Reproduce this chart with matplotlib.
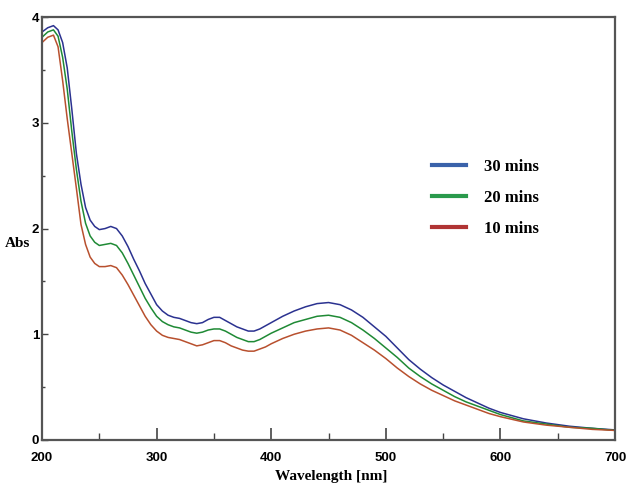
import matplotlib
matplotlib.use("Agg")
import matplotlib.pyplot as plt
from matplotlib.ticker import MultipleLocator

wavelength = [200, 205, 210, 214, 218, 222, 226, 230, 234, 238, 242, 246, 250, 255, 260, 265,
              270, 275, 280, 285, 290, 295, 300, 305, 310, 315, 320, 325, 330, 335, 340, 345,
              350, 355, 360, 365, 370, 375, 380, 385, 390, 395, 400, 410, 420, 430, 440, 450,
              460, 470, 480, 490, 500, 510, 520, 530, 540, 550, 560, 570, 580, 590, 600, 620,
              640, 660, 680, 700]

abs_30 = [3.86, 3.90, 3.92, 3.88, 3.76, 3.52, 3.13, 2.71, 2.42, 2.20, 2.08, 2.02, 1.99, 2.00, 2.02, 2.00,
          1.93, 1.83, 1.71, 1.60, 1.48, 1.38, 1.28, 1.22, 1.18, 1.16, 1.15, 1.13, 1.11, 1.10, 1.11, 1.14,
          1.16, 1.16, 1.13, 1.10, 1.07, 1.05, 1.03, 1.03, 1.05, 1.08, 1.11, 1.17, 1.22, 1.26, 1.29, 1.30,
          1.28, 1.23, 1.16, 1.07, 0.98, 0.87, 0.76, 0.67, 0.59, 0.52, 0.46, 0.40, 0.35, 0.30, 0.26, 0.20,
          0.16, 0.13, 0.11, 0.095]

abs_20 = [3.81, 3.86, 3.88, 3.82, 3.62, 3.32, 2.92, 2.56, 2.26, 2.05, 1.93, 1.87, 1.84, 1.85, 1.86, 1.84,
          1.77, 1.67, 1.56, 1.45, 1.34, 1.25, 1.17, 1.12, 1.09, 1.07, 1.06, 1.04, 1.02, 1.01, 1.02, 1.04,
          1.05, 1.05, 1.03, 1.00, 0.97, 0.95, 0.93, 0.93, 0.95, 0.98, 1.01, 1.06, 1.11, 1.14, 1.17, 1.18,
          1.16, 1.11, 1.04, 0.96, 0.87, 0.78, 0.68, 0.60, 0.53, 0.47, 0.41, 0.36, 0.32, 0.28, 0.24, 0.18,
          0.15, 0.12, 0.11, 0.09]

abs_10 = [3.76, 3.81, 3.83, 3.72, 3.40, 3.04, 2.71, 2.38, 2.04, 1.85, 1.73, 1.67, 1.64, 1.64, 1.65, 1.63,
          1.56, 1.47, 1.37, 1.27, 1.17, 1.09, 1.03, 0.99, 0.97, 0.96, 0.95, 0.93, 0.91, 0.89, 0.90, 0.92,
          0.94, 0.94, 0.92, 0.89, 0.87, 0.85, 0.84, 0.84, 0.86, 0.88, 0.91, 0.96, 1.00, 1.03, 1.05, 1.06,
          1.04, 0.99, 0.92, 0.85, 0.77, 0.68, 0.60, 0.53, 0.47, 0.42, 0.37, 0.33, 0.29, 0.25, 0.22, 0.17,
          0.14, 0.12, 0.10, 0.09]

labels = ["30 mins", "20 mins", "10 mins"]
colors = ["#2b3290", "#1f8a35", "#b8502e"]
legend_colors = ["#3a62aa", "#2a9a4c", "#b03434"]

tick_font = ["Liberation Sans", "DejaVu Sans"]
serif_font = ["Liberation Serif", "DejaVu Serif"]

fig = plt.figure(figsize=(6.27, 4.91), dpi=100)
ax = fig.add_axes([0.067, 0.104, 0.914, 0.861])

for y, c, lab in zip([abs_30, abs_20, abs_10], colors, labels):
    ax.plot(wavelength, y, color=c, lw=1.1, label=lab)

ax.set_xlim(200, 700)
ax.set_ylim(0, 4)
ax.xaxis.set_major_locator(MultipleLocator(100))
ax.xaxis.set_minor_locator(MultipleLocator(50))
ax.yaxis.set_major_locator(MultipleLocator(1))
ax.yaxis.set_minor_locator(MultipleLocator(0.5))
ax.tick_params(axis="x", which="major", direction="in", length=9, width=1.2, color="#444444", pad=9)
ax.tick_params(axis="x", which="minor", direction="in", length=5, width=1.0, color="#444444")
ax.tick_params(axis="y", which="major", direction="in", length=4, width=1.0, color="#444444", pad=2)
ax.tick_params(axis="y", which="minor", direction="in", length=2, width=1.0, color="#444444")

for lbl in ax.get_xticklabels() + ax.get_yticklabels():
    lbl.set_family(tick_font)
    lbl.set_fontsize(9.5)
    lbl.set_fontweight("bold")

for side in ["left", "bottom", "top", "right"]:
    ax.spines[side].set_color("#555555")
    ax.spines[side].set_linewidth(1.6)

fig.text(0.528, 0.030, "Wavelength [nm]", ha="center", va="center",
         family=serif_font, fontweight="bold", fontsize=11)
fig.text(0.008, 0.505, "Abs", ha="left", va="center",
         family=serif_font, fontweight="bold", fontsize=11)

leg = ax.legend(loc="upper left", bbox_to_anchor=(0.655, 0.70), frameon=False,
                prop={"family": serif_font, "weight": "bold", "size": 12},
                handlelength=2.0, handletextpad=1.1, labelspacing=0.9)
for line, c in zip(leg.get_lines(), legend_colors):
    line.set_linewidth(3)
    line.set_color(c)

fig.savefig("out.png", dpi=100)
